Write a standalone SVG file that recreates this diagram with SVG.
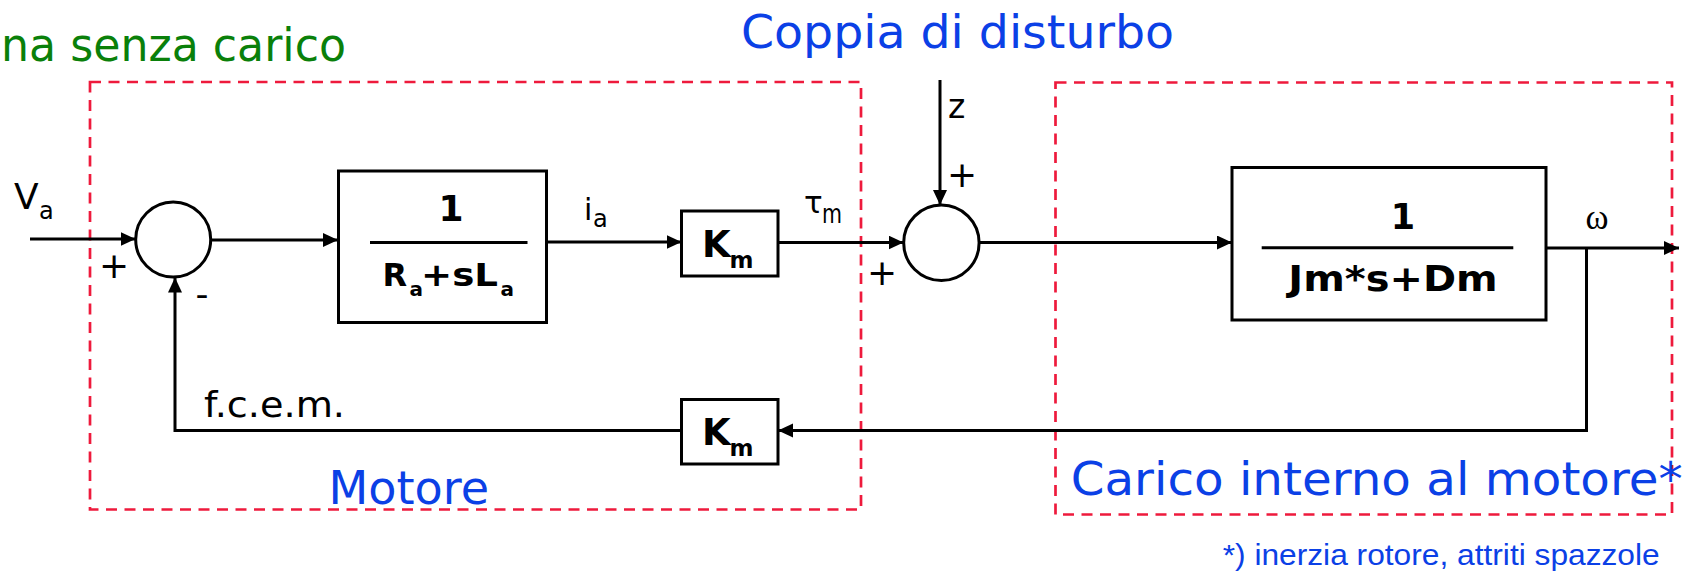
<svg xmlns="http://www.w3.org/2000/svg" width="1698" height="574" viewBox="0 0 1698 574">
<style>
.t{font-family:"DejaVu Sans",Verdana,sans-serif;fill:#000}
.b{font-family:"DejaVu Sans",Verdana,sans-serif;font-weight:bold;fill:#000}
.blue{font-family:"DejaVu Sans",Verdana,sans-serif;fill:#0B40E6}
.green{font-family:"DejaVu Sans",Verdana,sans-serif;fill:#0A800A}
.box{fill:#fff;stroke:#000;stroke-width:3}
.sum{fill:#fff;stroke:#000;stroke-width:3}
.frame{fill:none;stroke:#EE1A3C;stroke-width:2.7;stroke-dasharray:11 7.5}
.wire{fill:none;stroke:#000;stroke-width:3}
.arr{marker-end:url(#ah)}
.frac{stroke:#000;stroke-width:3}
</style>
<defs>
<marker id="ah" markerUnits="userSpaceOnUse" markerWidth="16" markerHeight="15" refX="15" refY="7" orient="auto">
<path d="M0,0 L15,7 L0,14 z" fill="#000"/>
</marker>
</defs>
<rect width="1698" height="574" fill="#fff"/>

<g id="titles">
<text class="green" x="1" y="61" font-size="47" textLength="345" lengthAdjust="spacingAndGlyphs">na senza carico</text>
<text class="blue" x="741" y="48" font-size="47" textLength="433" lengthAdjust="spacingAndGlyphs">Coppia di disturbo</text>
<text class="blue" x="1222.7" y="565" font-size="30" textLength="437" lengthAdjust="spacingAndGlyphs" style="font-family:'Liberation Sans',Arial,sans-serif">*) inerzia rotore, attriti spazzole</text>
</g>

<g id="frame-motore">
<rect class="frame" x="90" y="82" width="771" height="427.5"/>
<text class="blue" x="328.5" y="504" font-size="47" textLength="160.5" lengthAdjust="spacingAndGlyphs">Motore</text>
</g>
<g id="frame-carico">
<rect class="frame" x="1055.5" y="82.5" width="616.5" height="432"/>
<text class="blue" x="1070.7" y="495" font-size="47" textLength="612" lengthAdjust="spacingAndGlyphs">Carico interno al motore*</text>
</g>

<g id="connectors">
<line class="wire arr" x1="30" y1="239" x2="135.5" y2="239"/>
<line class="wire arr" x1="210.5" y1="240" x2="338" y2="240"/>
<line class="wire arr" x1="547" y1="242" x2="681.5" y2="242"/>
<line class="wire arr" x1="778" y1="242.5" x2="903.5" y2="242.5"/>
<line class="wire arr" x1="940" y1="80" x2="940" y2="205"/>
<line class="wire arr" x1="979" y1="242.5" x2="1232" y2="242.5"/>
<line class="wire arr" x1="1546" y1="248" x2="1679" y2="248"/>
<polyline class="wire arr" points="1586.5,248 1586.5,430.5 778,430.5"/>
<polyline class="wire arr" points="682,430.5 175,430.5 175,277.5"/>
</g>

<g id="signal-labels">
<text class="t" x="14" y="209" font-size="36">V</text>
<text class="t" x="39" y="219" font-size="24">a</text>
<text class="t" x="584" y="219.5" font-size="30">i</text>
<text class="t" x="593" y="226.7" font-size="24">a</text>
<text class="t" x="804" y="213" font-size="31">τ</text>
<text class="t" x="822" y="223" font-size="26" textLength="20" lengthAdjust="spacingAndGlyphs">m</text>
<text class="t" x="948" y="118.3" font-size="33">z</text>
<text x="1585.5" y="229" font-size="36" textLength="23" lengthAdjust="spacingAndGlyphs" style="font-family:'Liberation Serif','Times New Roman',serif">ω</text>
<text class="t" x="204" y="416.7" font-size="36" textLength="141" lengthAdjust="spacingAndGlyphs">f.c.e.m.</text>
<text class="t" x="114" y="278" font-size="36" text-anchor="middle">+</text>
<text class="t" x="882" y="284.5" font-size="36" text-anchor="middle">+</text>
<text class="t" x="962" y="186.5" font-size="36" text-anchor="middle">+</text>
<text class="t" x="202" y="306" font-size="36" text-anchor="middle">-</text>
</g>

<g id="sum1">
<circle class="sum" cx="173.2" cy="239.5" r="37.5"/>
</g>
<g id="sum2">
<circle class="sum" cx="941.4" cy="242.8" r="37.7"/>
</g>

<g id="block-armature">
<rect class="box" x="338.5" y="171" width="208" height="151.5"/>
<text class="b" x="451" y="221" font-size="36" text-anchor="middle">1</text>
<line class="frac" x1="370" y1="242.5" x2="527.5" y2="242.5"/>
<text class="b" x="382.5" y="285.7" font-size="32">R</text>
<text class="b" x="409.5" y="296" font-size="20">a</text>
<text class="b" x="421" y="285.7" font-size="32" textLength="77" lengthAdjust="spacingAndGlyphs">+sL</text>
<text class="b" x="500.5" y="296" font-size="20">a</text>
</g>

<g id="block-km-forward">
<rect class="box" x="681.5" y="211" width="96.5" height="65"/>
<text class="b" x="702" y="257.3" font-size="37">K</text>
<text class="b" x="729.5" y="268.3" font-size="23">m</text>
</g>

<g id="block-load">
<rect class="box" x="1232" y="167.5" width="314" height="152.5"/>
<text class="b" x="1403" y="229.3" font-size="35" text-anchor="middle">1</text>
<line class="frac" x1="1261.7" y1="247.7" x2="1513.3" y2="247.7"/>
<text class="b" x="1288.3" y="291" font-size="36" textLength="209.4" lengthAdjust="spacingAndGlyphs">Jm*s+Dm</text>
</g>

<g id="block-km-feedback">
<rect class="box" x="681.5" y="399.5" width="96.5" height="64.5"/>
<text class="b" x="702" y="445.3" font-size="37">K</text>
<text class="b" x="729.5" y="456.3" font-size="23">m</text>
</g>
</svg>
